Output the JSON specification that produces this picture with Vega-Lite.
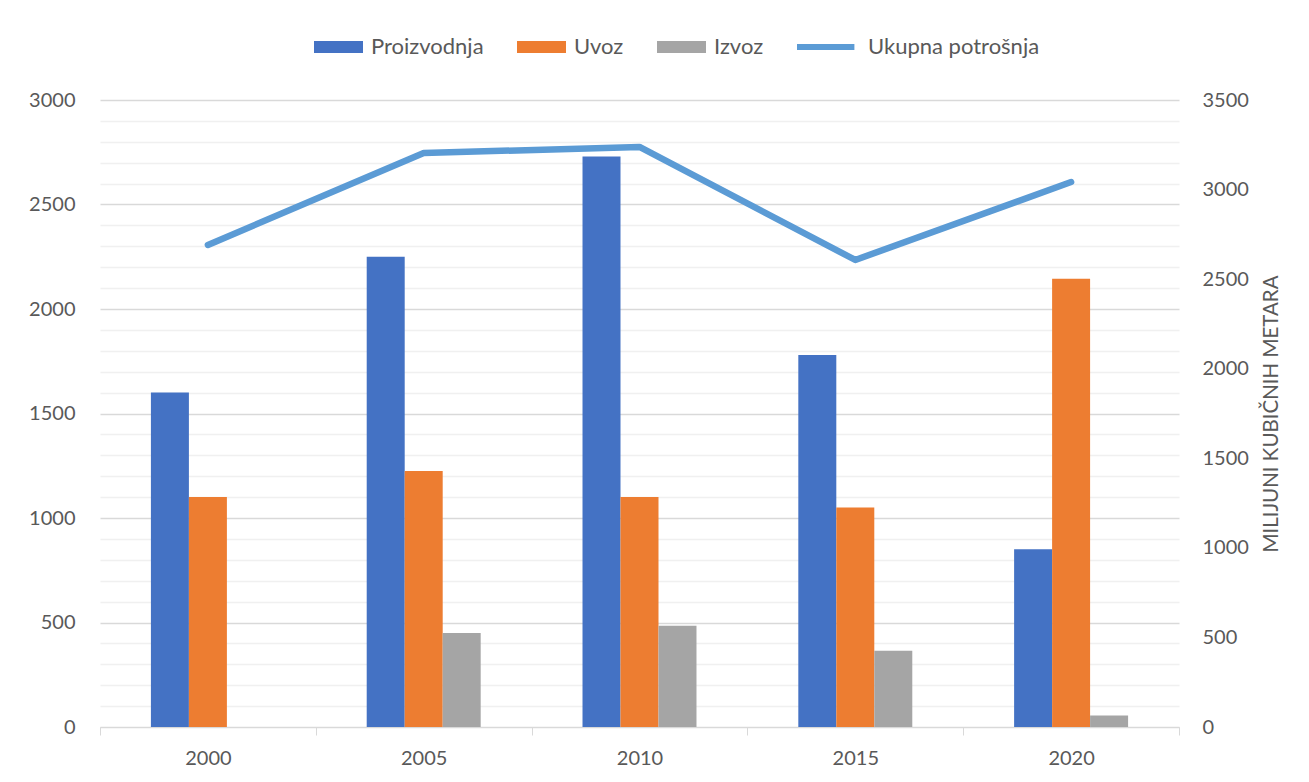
{
  "$schema": "https://vega.github.io/schema/vega-lite/v6.json",
  "width": 1079,
  "height": 627,
  "autosize": {"type": "none"},
  "padding": {"left": 100, "top": 100, "right": 130, "bottom": 55},
  "background": "white",
  "config": {
    "view": {"stroke": null},
    "font": "Lato",
    "axis": {"labelFont": "Lato", "titleFont": "Lato", "labelColor": "#595959", "titleColor": "#595959", "labelFontSize": 20, "titleFontSize": 20.5, "titleFontWeight": "normal"},
    "legend": {"labelFont": "Lato", "labelFontSize": 22, "labelColor": "#595959", "labelLimit": 400}
  },
  "data": {
    "values": [
      {"year": "2000", "series": "Proizvodnja", "value": 1600},
      {"year": "2000", "series": "Uvoz", "value": 1100},
      {"year": "2000", "series": "Izvoz", "value": 0},
      {"year": "2005", "series": "Proizvodnja", "value": 2250},
      {"year": "2005", "series": "Uvoz", "value": 1225},
      {"year": "2005", "series": "Izvoz", "value": 450},
      {"year": "2010", "series": "Proizvodnja", "value": 2730},
      {"year": "2010", "series": "Uvoz", "value": 1100},
      {"year": "2010", "series": "Izvoz", "value": 485},
      {"year": "2015", "series": "Proizvodnja", "value": 1780},
      {"year": "2015", "series": "Uvoz", "value": 1050},
      {"year": "2015", "series": "Izvoz", "value": 365},
      {"year": "2020", "series": "Proizvodnja", "value": 850},
      {"year": "2020", "series": "Uvoz", "value": 2145},
      {"year": "2020", "series": "Izvoz", "value": 55},
      {"year": "2000", "series": "Ukupna potrošnja", "value": 2691},
      {"year": "2005", "series": "Ukupna potrošnja", "value": 3204},
      {"year": "2010", "series": "Ukupna potrošnja", "value": 3238},
      {"year": "2015", "series": "Ukupna potrošnja", "value": 2607},
      {"year": "2020", "series": "Ukupna potrošnja", "value": 3042}
    ]
  },
  "encoding": {
    "x": {
      "field": "year",
      "type": "nominal",
      "scale": {"paddingInner": 0, "paddingOuter": 0},
      "axis": {
        "title": null,
        "labelAngle": 0,
        "domainColor": "#d9d9d9",
        "tickColor": "#d9d9d9",
        "tickBand": "extent",
        "tickSize": 8,
        "labelPadding": 13,
        "labelBaseline": "top"
      }
    }
  },
  "layer": [
    {
      "transform": [{"filter": "datum.series !== 'Ukupna potrošnja'"}],
      "mark": {"type": "bar"},
      "encoding": {
        "xOffset": {"field": "series", "type": "nominal", "scale": {"domain": ["_a", "Proizvodnja", "Uvoz", "Izvoz", "_b"], "paddingInner": 0, "paddingOuter": 0.34}},
        "y": {
          "field": "value",
          "type": "quantitative",
          "scale": {"domain": [0, 3000], "nice": false},
          "axis": {
            "title": null,
            "values": [0,100,200,300,400,500,600,700,800,900,1000,1100,1200,1300,1400,1500,1600,1700,1800,1900,2000,2100,2200,2300,2400,2500,2600,2700,2800,2900,3000],
            "labelExpr": "datum.value % 500 === 0 ? datum.label : ''",
            "format": "d",
            "domain": false,
            "ticks": false,
            "grid": true,
            "gridColor": {"condition": {"test": "datum.value % 500 === 0", "value": "#d9d9d9"}, "value": "#f0f0f0"},
            "gridWidth": 1.3,
            "labelPadding": 25,
            "zindex": 0
          }
        },
        "color": {
          "field": "series",
          "type": "nominal",
          "scale": {"domain": ["Proizvodnja", "Uvoz", "Izvoz", "Ukupna potrošnja"], "range": ["#4472c4", "#ed7d31", "#a5a5a5", "#5b9bd5"]},
          "legend": {
            "title": null,
            "orient": "none",
            "direction": "horizontal",
            "legendX": 235,
            "legendY": -67,
            "padding": 0,
            "symbolSize": 784,
            "symbolStrokeWidth": 0,
            "symbolOpacity": 1,
            "labelOffset": 8,
            "columnPadding": 33,
            "encode": {
              "symbols": {
                "update": {
                  "shape": {"signal": "datum.value === 'Ukupna potrošnja' ? 'M-3.5,-0.22H0.6V0.22H-3.5Z' : 'M-2.5,-0.43H1V0.43H-2.5Z'"},
                  "strokeWidth": {"value": 0}
                }
              }
            }
          }
        }
      }
    },
    {
      "transform": [{"filter": "datum.series === 'Ukupna potrošnja'"}],
      "mark": {"type": "line", "strokeWidth": 6.5, "strokeCap": "round", "strokeJoin": "round"},
      "encoding": {
        "y": {
          "field": "value",
          "type": "quantitative",
          "scale": {"domain": [0, 3500], "nice": false},
          "axis": {
            "orient": "right",
            "title": "MILIJUNI KUBIČNIH METARA",
            "titleAngle": 270,
            "titlePadding": 33,
            "values": [0,500,1000,1500,2000,2500,3000,3500],
            "format": "d",
            "domain": false,
            "ticks": false,
            "grid": false,
            "labelPadding": 23
          }
        },
        "color": {"field": "series", "type": "nominal"}
      }
    }
  ],
  "resolve": {"scale": {"y": "independent"}}
}
